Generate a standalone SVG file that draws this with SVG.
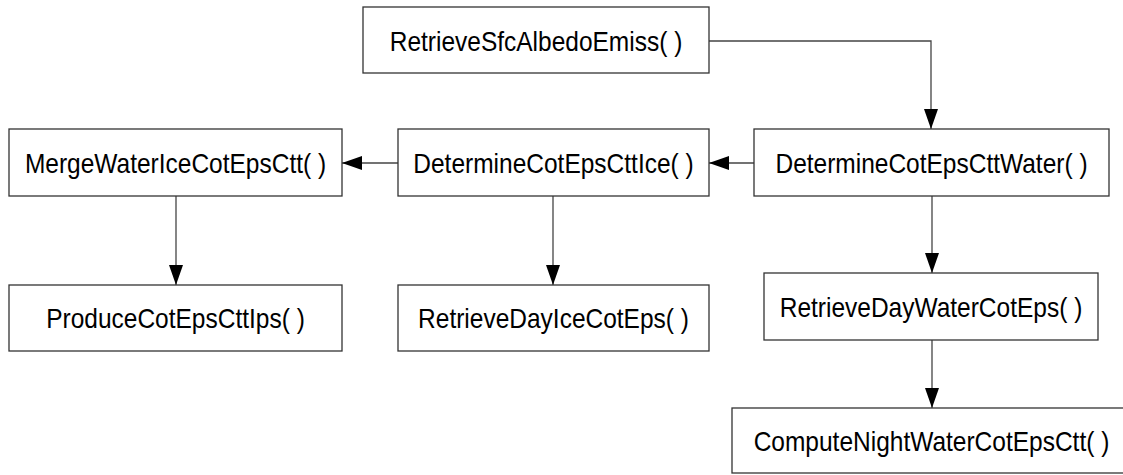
<svg xmlns="http://www.w3.org/2000/svg" width="1123" height="475" viewBox="0 0 1123 475">
  <style>
    .box { fill: #ffffff; stroke: #333333; stroke-width: 1.3; }
    .lbl { font-family: "Liberation Sans", Arial, sans-serif; font-size: 24.5px; fill: #000000; text-anchor: middle; }
    .edge { fill: none; stroke: #444444; stroke-width: 1.3; marker-end: url(#arrow); }
  </style>
  <defs>
    <marker id="arrow" markerUnits="userSpaceOnUse" markerWidth="20" markerHeight="14" refX="20" refY="7" orient="auto">
      <path d="M0,0 L20,7 L0,14 z" fill="#000000"/>
    </marker>
  </defs>
  <rect width="1123" height="475" fill="#ffffff"/>

  <g id="connectors">
    <path class="edge" d="M709,41 H931 V129"/>
    <path class="edge" d="M754,163 H709"/>
    <path class="edge" d="M398,163 H342"/>
    <path class="edge" d="M176,196 V285"/>
    <path class="edge" d="M553,196 V285"/>
    <path class="edge" d="M932,196 V273"/>
    <path class="edge" d="M932,340 V408"/>
  </g>

  <!-- labels are stretched slightly taller than wide -->
  <g id="retrieveSfcAlbedoEmiss">
    <rect class="box" x="363" y="7" width="346" height="66"/>
    <text class="lbl" transform="translate(536,51) scale(1,1.15)">RetrieveSfcAlbedoEmiss( )</text>
  </g>
  <g id="determineCotEpsCttWater">
    <rect class="box" x="754" y="129" width="355" height="67"/>
    <text class="lbl" transform="translate(931.5,172.5) scale(1,1.15)">DetermineCotEpsCttWater( )</text>
  </g>
  <g id="determineCotEpsCttIce">
    <rect class="box" x="398" y="129" width="311" height="67"/>
    <text class="lbl" transform="translate(553.5,172.5) scale(1,1.15)">DetermineCotEpsCttIce( )</text>
  </g>
  <g id="mergeWaterIceCotEpsCtt">
    <rect class="box" x="9" y="129" width="333" height="67"/>
    <text class="lbl" transform="translate(175.5,172.5) scale(1,1.15)">MergeWaterIceCotEpsCtt( )</text>
  </g>
  <g id="produceCotEpsCttIps">
    <rect class="box" x="9" y="285" width="333" height="66"/>
    <text class="lbl" transform="translate(175.5,328) scale(1,1.15)">ProduceCotEpsCttIps( )</text>
  </g>
  <g id="retrieveDayIceCotEps">
    <rect class="box" x="398" y="285" width="311" height="66"/>
    <text class="lbl" transform="translate(553.5,328) scale(1,1.15)">RetrieveDayIceCotEps( )</text>
  </g>
  <g id="retrieveDayWaterCotEps">
    <rect class="box" x="764" y="273" width="334" height="67"/>
    <text class="lbl" transform="translate(931,316.5) scale(1,1.15)">RetrieveDayWaterCotEps( )</text>
  </g>
  <g id="computeNightWaterCotEpsCtt">
    <rect class="box" x="732" y="408" width="399" height="65"/>
    <text class="lbl" transform="translate(931.5,450.5) scale(1,1.15)">ComputeNightWaterCotEpsCtt( )</text>
  </g>
</svg>
